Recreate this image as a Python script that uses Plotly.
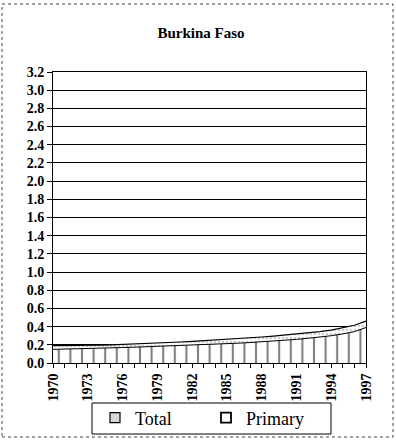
import plotly.graph_objects as go

# Burkina Faso series, 1970-1997
years = list(range(1970, 1998))
primary = [0.150, 0.152, 0.155, 0.158, 0.162, 0.166, 0.170, 0.174, 0.178, 0.182,
           0.186, 0.190, 0.195, 0.200, 0.206, 0.212, 0.218, 0.225, 0.232, 0.240,
           0.250, 0.260, 0.272, 0.285, 0.300, 0.320, 0.345, 0.390]
total = [0.190, 0.190, 0.191, 0.193, 0.196, 0.200, 0.204, 0.209, 0.214, 0.219,
         0.225, 0.231, 0.238, 0.245, 0.252, 0.260, 0.268, 0.277, 0.286, 0.296,
         0.307, 0.319, 0.332, 0.346, 0.362, 0.385, 0.415, 0.460]
y_ticks = [round(0.2 * i, 1) for i in range(17)]
x_ticks = list(range(1970, 1998, 3))

W, H = 396, 442
L, R, T, B = 53, 366, 72, 363
pw, ph = R - L, B - T


def px(x):
    return (x - L) / pw


def py(y):
    return (B - y) / ph


FONT = "Liberation Serif, Times New Roman, DejaVu Serif, serif"
TOTAL_PATTERN = dict(shape=".", size=4, solidity=0.35,
                     fgcolor="#9a9a9a", bgcolor="white")
PRIMARY_PATTERN = dict(shape="|", size=11.6, solidity=0.18,
                       fgcolor="black", bgcolor="white")

fig = go.Figure()
fig.add_trace(go.Scatter(
    x=years, y=primary, name="Primary", mode="lines",
    line=dict(color="black", width=1),
    fill="tozeroy", fillcolor="white", fillpattern=PRIMARY_PATTERN,
    showlegend=False,
))
fig.add_trace(go.Scatter(
    x=years, y=total, name="Total", mode="lines",
    line=dict(color="black", width=1.2),
    fill="tonexty", fillcolor="white", fillpattern=TOTAL_PATTERN,
    showlegend=False,
))
# legend keys: small boxes
fig.add_trace(go.Scatter(
    x=[None], y=[None], name="Total", mode="markers",
    marker=dict(symbol="square", size=10, color="#d8d8d8",
                line=dict(color="black", width=1.2)),
))
fig.add_trace(go.Scatter(
    x=[None], y=[None], name="Primary", mode="markers",
    marker=dict(symbol="square", size=10, color="white",
                line=dict(color="black", width=1.8)),
))

fig.update_layout(
    width=W, height=H,
    margin=dict(l=L, r=W - R, t=T, b=H - B, autoexpand=False),
    paper_bgcolor="white", plot_bgcolor="white",
    font=dict(family=FONT, color="black", size=13),
    showlegend=True,
    legend=dict(
        orientation="h", traceorder="normal",
        x=px(95), y=py(418), xanchor="left", yanchor="middle",
        borderwidth=0, bgcolor="rgba(0,0,0,0)",
        font=dict(family=FONT, size=18),
        entrywidth=66, entrywidthmode="pixels",
        itemwidth=30, tracegroupgap=0,
    ),
    title=dict(text="<b>Burkina Faso</b>", x=px(201), xref="paper",
               xanchor="center", y=1 - 33 / H, yanchor="middle",
               font=dict(family=FONT, size=15)),
)
fig.update_xaxes(
    range=[1970, 1997], tickmode="array", tickvals=x_ticks,
    ticktext=[f"<b>{v}</b>" for v in x_ticks], tickangle=-90,
    showgrid=False, showline=True, linecolor="black", linewidth=1,
    mirror=True, ticks="outside", ticklen=4, tickcolor="black",
    minor=dict(tickmode="linear", tick0=1970, dtick=1, ticks="outside",
               ticklen=4, tickcolor="black", showgrid=False),
    tickfont=dict(family=FONT, size=14), zeroline=False,
)
fig.update_yaxes(
    range=[0, 3.2], tickmode="array", tickvals=y_ticks,
    ticktext=[f"<b>{v:.1f}</b>" for v in y_ticks],
    showgrid=True, gridcolor="black", gridwidth=1,
    showline=True, linecolor="black", linewidth=1, mirror=True,
    ticks="outside", ticklen=5, tickcolor="black",
    tickfont=dict(family=FONT, size=14), zeroline=False,
)
# legend box
fig.add_shape(type="rect", xref="paper", yref="paper",
              x0=px(92), x1=px(331), y0=py(434), y1=py(403),
              line=dict(color="black", width=1))
# dashed outer frame around the whole chart
fig.add_shape(type="rect", xref="paper", yref="paper",
              x0=px(2), x1=px(393), y0=py(437), y1=py(4),
              line=dict(color="#444", width=1, dash="dot"))

fig.write_html("out.html")
